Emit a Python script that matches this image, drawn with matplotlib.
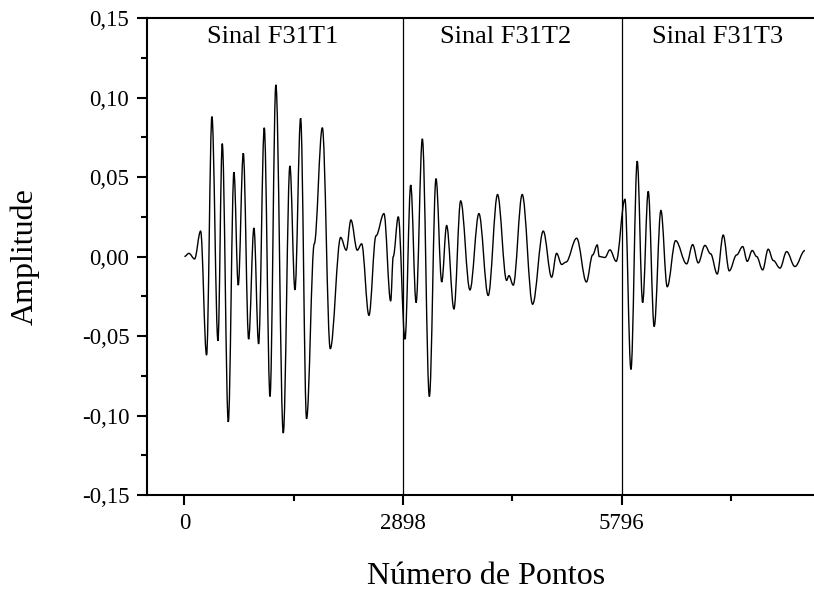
import matplotlib
matplotlib.use("Agg")
import matplotlib.pyplot as plt
from matplotlib.path import Path
from matplotlib.patches import PathPatch

# Turning points of the three concatenated signals (sample index, amplitude)
sample_index = [
    0, 60, 135, 215, 294, 365, 445, 502, 582, 657, 714, 781, 852, 922, 984,
    1059, 1135, 1213, 1311, 1399, 1466, 1541, 1620, 1722, 1829, 1934, 2072,
    2146, 2208, 2292, 2350, 2447, 2540, 2646, 2735, 2769, 2836,
    2925, 3001, 3072, 3155, 3248, 3336, 3412, 3477, 3574, 3663, 3786, 3905,
    4028, 4152, 4272, 4303, 4360, 4479, 4617, 4758, 4869, 4935, 5002, 5059,
    5201, 5330, 5413, 5474, 5500, 5576, 5642, 5725,
    5841, 5921, 6004, 6076, 6150, 6229, 6318, 6402, 6513, 6659, 6739, 6813,
    6902, 6977, 7065, 7144, 7224, 7322, 7402, 7463, 7529, 7587, 7667, 7741,
    7808, 7897, 7985, 8095, 8228,
]
amplitude = [
    0.0, 0.002, -0.0015, 0.016, -0.062, 0.088, -0.053, 0.071, -0.104, 0.053,
    -0.018, 0.065, -0.052, 0.018, -0.055, 0.081, -0.088, 0.108, -0.111, 0.057,
    -0.021, 0.087, -0.102, 0.008, 0.081, -0.058, 0.012, 0.004, 0.023, 0.004,
    0.008, -0.037, 0.013, 0.027, -0.028, 0.000, 0.025,
    -0.052, 0.045, -0.029, 0.074, -0.088, 0.049, -0.016, 0.0195, -0.033,
    0.035, -0.021, 0.027, -0.0245, 0.039, -0.015, -0.012, -0.018, 0.039,
    -0.030, 0.016, -0.013, 0.002, -0.005, -0.0035, 0.0115, -0.016, 0.001,
    0.0073, 0.000, -0.0006, 0.0042, -0.003,
    0.036, -0.071, 0.060, -0.029, 0.041, -0.044, 0.029, -0.019, 0.010,
    -0.0046, 0.0075, -0.004, 0.007, 0.0017, -0.011, 0.0135, -0.009, 0.001,
    0.0063, -0.003, 0.0038, 0.000, -0.0084, 0.0046, -0.0025, -0.0073,
    0.0031, -0.0063, 0.0038,
]

segment_bounds = [2898, 5796]
segment_labels = ["Sinal F31T1", "Sinal F31T2", "Sinal F31T3"]
segment_label_x = [1167, 4261, 7068]

x_major = [0, 2898, 5796]
x_minor = [1449, 4347, 7245]
y_major = [-0.15, -0.10, -0.05, 0.00, 0.05, 0.10, 0.15]
y_major_labels = ["-0,15", "-0,10", "-0,05", "0,00", "0,05", "0,10", "0,15"]
y_minor = [-0.125, -0.075, -0.025, 0.025, 0.075, 0.125]

serif = ["Liberation Serif", "DejaVu Serif"]
plt.rcParams["font.family"] = serif

fig = plt.figure(figsize=(8.14, 5.95), dpi=100)
ax = fig.add_axes([0.1802, 0.168, 0.8339, 0.8017])

# smooth waveform: cubic segments with flat tangents at each turning point
k = 0.36
verts = [(sample_index[0], amplitude[0])]
codes = [Path.MOVETO]
for i in range(1, len(sample_index)):
    x0, y0 = sample_index[i - 1], amplitude[i - 1]
    x1, y1 = sample_index[i], amplitude[i]
    dx = x1 - x0
    verts += [(x0 + k * dx, y0), (x1 - k * dx, y1), (x1, y1)]
    codes += [Path.CURVE4] * 3
ax.add_patch(PathPatch(Path(verts, codes), facecolor="none",
                       edgecolor="black", lw=1.0, transform=ax.transData))

for xb in segment_bounds:
    ax.axvline(xb, color="black", lw=0.9)

for lbl, lx in zip(segment_labels, segment_label_x):
    ax.text(lx, 0.1345, lbl, ha="center", va="baseline", fontsize=19)

ax.set_xlim(-500, 8500)
ax.set_ylim(-0.15, 0.15)

ax.set_xticks(x_major)
ax.set_xticklabels([str(v) for v in x_major])
ax.set_xticks(x_minor, minor=True)
ax.set_yticks(y_major)
ax.set_yticklabels(y_major_labels)
ax.set_yticks(y_minor, minor=True)

ax.tick_params(axis="both", which="major", direction="out", length=7,
               width=1.5, labelsize=16.5, pad=5.5)
ax.tick_params(axis="both", which="minor", direction="out", length=4,
               width=1.5)
ax.tick_params(axis="x", which="major", pad=6)

for side in ("left", "bottom", "top"):
    ax.spines[side].set_linewidth(1.5)
ax.spines["right"].set_visible(False)

ax.set_xlabel("Número de Pontos", fontsize=23, labelpad=20)
ax.set_ylabel("Amplitude", fontsize=23, labelpad=30)

fig.savefig("out.png", dpi=100)
